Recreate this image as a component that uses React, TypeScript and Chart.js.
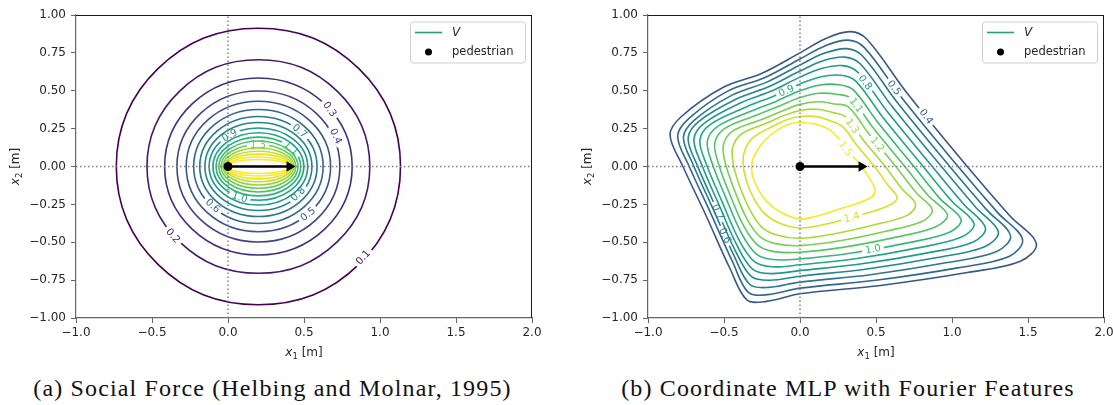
import React, { useEffect, useRef } from 'react';
import { Chart, registerables } from 'chart.js';

Chart.register(...registerables);

// ---------------- axis ticks ----------------
const xTickValues = [-1, -0.5, 0, 0.5, 1, 1.5, 2];
const yTickValues = [-1, -0.75, -0.5, -0.25, 0, 0.25, 0.5, 0.75, 1];

// ---------------- pedestrian + arrow ----------------
const pedestrian = [[0, 0]];
const arrowShaft = [[0, 0], [0.4, 0]];
const arrowHead = [[0.405, 0]];

// ---------------- (a) Social Force contours (levels 0.1 .. 1.8) ----------------
const sfLevels = [0.1, 0.2, 0.3, 0.4, 0.5, 0.6, 0.7, 0.8, 0.9, 1.0, 1.1, 1.2, 1.3, 1.4, 1.5, 1.6, 1.7, 1.8];
const sf01 = [[1.135, 0], [0.861, 0.646], [0.2, 0.913], [-0.461, 0.646], [-0.735, 0], [-0.461, -0.646], [0.2, -0.913], [0.861, -0.646]];
const sf02 = [[0.933, 0], [0.718, 0.498], [0.2, 0.705], [-0.318, 0.498], [-0.533, 0], [-0.318, -0.498], [0.2, -0.705], [0.718, -0.498]];
const sf03 = [[0.817, 0], [0.636, 0.413], [0.2, 0.584], [-0.236, 0.413], [-0.417, 0], [-0.236, -0.413], [0.2, -0.584], [0.636, -0.413]];
const sf04 = [[0.736, 0], [0.579, 0.352], [0.2, 0.498], [-0.179, 0.352], [-0.336, 0], [-0.179, -0.352], [0.2, -0.498], [0.579, -0.352]];
const sf05 = [[0.675, 0], [0.536, 0.305], [0.2, 0.431], [-0.136, 0.305], [-0.275, 0], [-0.136, -0.305], [0.2, -0.431], [0.536, -0.305]];
const sf06 = [[0.626, 0], [0.501, 0.266], [0.2, 0.376], [-0.101, 0.266], [-0.226, 0], [-0.101, -0.266], [0.2, -0.376], [0.501, -0.266]];
const sf07 = [[0.586, 0], [0.473, 0.233], [0.2, 0.33], [-0.073, 0.233], [-0.186, 0], [-0.073, -0.233], [0.2, -0.33], [0.473, -0.233]];
const sf08 = [[0.552, 0], [0.449, 0.205], [0.2, 0.29], [-0.049, 0.205], [-0.152, 0], [-0.049, -0.205], [0.2, -0.29], [0.449, -0.205]];
const sf09 = [[0.524, 0], [0.429, 0.18], [0.2, 0.254], [-0.029, 0.18], [-0.124, 0], [-0.029, -0.18], [0.2, -0.254], [0.429, -0.18]];
const sf10 = [[0.499, 0], [0.411, 0.158], [0.2, 0.223], [-0.011, 0.158], [-0.099, 0], [-0.011, -0.158], [0.2, -0.223], [0.411, -0.158]];
const sf11 = [[0.479, 0], [0.397, 0.137], [0.2, 0.194], [0.003, 0.137], [-0.079, 0], [0.003, -0.137], [0.2, -0.194], [0.397, -0.137]];
const sf12 = [[0.461, 0], [0.385, 0.119], [0.2, 0.168], [0.015, 0.119], [-0.061, 0], [0.015, -0.119], [0.2, -0.168], [0.385, -0.119]];
const sf13 = [[0.446, 0], [0.374, 0.102], [0.2, 0.144], [0.026, 0.102], [-0.046, 0], [0.026, -0.102], [0.2, -0.144], [0.374, -0.102]];
const sf14 = [[0.434, 0], [0.365, 0.086], [0.2, 0.122], [0.035, 0.086], [-0.034, 0], [0.035, -0.086], [0.2, -0.122], [0.365, -0.086]];
const sf15 = [[0.424, 0], [0.358, 0.071], [0.2, 0.101], [0.042, 0.071], [-0.024, 0], [0.042, -0.071], [0.2, -0.101], [0.358, -0.071]];
const sf16 = [[0.416, 0], [0.353, 0.058], [0.2, 0.082], [0.047, 0.058], [-0.016, 0], [0.047, -0.058], [0.2, -0.082], [0.353, -0.058]];
const sf17 = [[0.41, 0], [0.348, 0.045], [0.2, 0.063], [0.052, 0.045], [-0.01, 0], [0.052, -0.045], [0.2, -0.063], [0.348, -0.045]];
const sf18 = [[0.405, 0], [0.345, 0.033], [0.2, 0.046], [0.055, 0.033], [-0.005, 0], [0.055, -0.033], [0.2, -0.046], [0.345, -0.033]];
const sfContours = [sf01, sf02, sf03, sf04, sf05, sf06, sf07, sf08, sf09, sf10, sf11, sf12, sf13, sf14, sf15, sf16, sf17, sf18];

// inline contour labels of (a): level index, position (data), rotation (deg)
const sfLabelLevel = [0, 1, 2, 3, 4, 5, 6, 7, 8, 9, 10, 12];
const sfLabelX = [0.889, -0.362, 0.67, 0.71, 0.526, -0.099, 0.472, 0.461, 0.011, 0.077, 0.417, 0.197];
const sfLabelY = [-0.599, -0.457, 0.378, 0.2, -0.314, -0.259, 0.234, -0.182, 0.206, -0.203, 0.122, 0.144];
const sfLabelRot = [-48, 49, 55, 65, -40, 42, 40, -44, -28, 18, 41, 0];

// ---------------- (b) Coordinate MLP contours (levels 0.4 .. 1.5) ----------------
const mlpLevels = [0.4, 0.5, 0.6, 0.7, 0.8, 0.9, 1.0, 1.1, 1.2, 1.3, 1.4, 1.5];
const mlp04 = [[0, 0.75], [0.17, 0.845], [0.33, 0.89], [0.44, 0.84], [0.7, 0.49], [1.1, 0], [1.38, -0.325], [1.555, -0.51], [1.45, -0.625], [1.1, -0.7], [0.53, -0.785], [0, -0.84], [-0.22, -0.89], [-0.35, -0.88], [-0.46, -0.675], [-0.62, -0.32], [-0.77, 0], [-0.855, 0.21], [-0.78, 0.33], [-0.51, 0.52], [-0.25, 0.615]];
const mlp05 = [[0, 0.71], [0.164, 0.796], [0.318, 0.834], [0.425, 0.783], [0.668, 0.456], [1.04, 0], [1.302, -0.306], [1.464, -0.48], [1.375, -0.594], [1.037, -0.669], [0.498, -0.751], [0, -0.803], [-0.213, -0.846], [-0.34, -0.831], [-0.444, -0.628], [-0.593, -0.296], [-0.73, 0.003], [-0.805, 0.2], [-0.732, 0.316], [-0.479, 0.496], [-0.234, 0.586]];
const mlp06 = [[0, 0.67], [0.158, 0.747], [0.306, 0.778], [0.41, 0.731], [0.639, 0.424], [0.985, 0], [1.23, -0.288], [1.385, -0.456], [1.294, -0.561], [0.969, -0.634], [0.463, -0.714], [0, -0.763], [-0.206, -0.798], [-0.33, -0.779], [-0.432, -0.593], [-0.573, -0.278], [-0.7, 0.005], [-0.767, 0.193], [-0.695, 0.306], [-0.447, 0.471], [-0.219, 0.557]];
const mlp07 = [[0, 0.63], [0.152, 0.698], [0.294, 0.722], [0.396, 0.678], [0.609, 0.392], [0.93, 0], [1.157, -0.27], [1.305, -0.432], [1.215, -0.529], [0.903, -0.601], [0.429, -0.678], [0, -0.724], [-0.199, -0.751], [-0.319, -0.727], [-0.422, -0.563], [-0.556, -0.264], [-0.675, 0.006], [-0.736, 0.187], [-0.665, 0.298], [-0.416, 0.447], [-0.203, 0.528]];
const mlp08 = [[0, 0.59], [0.146, 0.648], [0.281, 0.666], [0.38, 0.622], [0.578, 0.358], [0.87, 0], [1.079, -0.251], [1.22, -0.405], [1.14, -0.498], [0.84, -0.57], [0.397, -0.644], [0, -0.687], [-0.192, -0.707], [-0.31, -0.679], [-0.411, -0.528], [-0.536, -0.246], [-0.645, 0.008], [-0.698, 0.18], [-0.629, 0.287], [-0.385, 0.423], [-0.187, 0.498]];
const mlp09 = [[0, 0.545], [0.139, 0.593], [0.268, 0.602], [0.365, 0.565], [0.546, 0.323], [0.81, 0], [1.001, -0.231], [1.145, -0.378], [1.063, -0.466], [0.775, -0.537], [0.364, -0.609], [0, -0.649], [-0.185, -0.662], [-0.3, -0.628], [-0.398, -0.491], [-0.515, -0.227], [-0.614, 0.01], [-0.659, 0.172], [-0.591, 0.277], [-0.349, 0.395], [-0.17, 0.466]];
const mlp10 = [[0, 0.5], [0.132, 0.538], [0.254, 0.54], [0.349, 0.507], [0.514, 0.288], [0.75, 0], [0.921, -0.212], [1.06, -0.35], [0.983, -0.434], [0.708, -0.504], [0.329, -0.573], [0, -0.61], [-0.178, -0.614], [-0.289, -0.576], [-0.383, -0.445], [-0.489, -0.204], [-0.575, 0.013], [-0.61, 0.163], [-0.544, 0.263], [-0.315, 0.368], [-0.152, 0.433]];
const mlp11 = [[0, 0.455], [0.125, 0.483], [0.24, 0.477], [0.334, 0.451], [0.482, 0.254], [0.69, 0], [0.843, -0.192], [0.97, -0.318], [0.894, -0.397], [0.633, -0.466], [0.291, -0.532], [0, -0.566], [-0.17, -0.562], [-0.278, -0.519], [-0.367, -0.399], [-0.463, -0.181], [-0.535, 0.015], [-0.561, 0.153], [-0.496, 0.25], [-0.279, 0.341], [-0.135, 0.4]];
const mlp12 = [[0, 0.41], [0.118, 0.427], [0.227, 0.413], [0.318, 0.394], [0.45, 0.22], [0.63, 0], [0.765, -0.173], [0.87, -0.286], [0.805, -0.361], [0.558, -0.429], [0.253, -0.492], [0, -0.522], [-0.162, -0.509], [-0.266, -0.461], [-0.349, -0.346], [-0.432, -0.154], [-0.49, 0.018], [-0.504, 0.142], [-0.442, 0.235], [-0.244, 0.313], [-0.117, 0.367]];
const mlp13 = [[0, 0.37], [0.112, 0.378], [0.214, 0.357], [0.3, 0.327], [0.413, 0.179], [0.56, 0], [0.673, -0.15], [0.76, -0.248], [0.708, -0.321], [0.477, -0.388], [0.211, -0.447], [0, -0.474], [-0.153, -0.452], [-0.254, -0.398], [-0.329, -0.287], [-0.399, -0.124], [-0.44, 0.022], [-0.442, 0.13], [-0.381, 0.218], [-0.213, 0.289], [-0.101, 0.338]];
const mlp14 = [[0, 0.33], [0.106, 0.329], [0.202, 0.301], [0.282, 0.261], [0.375, 0.139], [0.49, 0], [0.581, -0.127], [0.64, -0.208], [0.57, -0.264], [0.361, -0.33], [0.152, -0.385], [0, -0.406], [-0.141, -0.371], [-0.236, -0.308], [-0.304, -0.211], [-0.355, -0.086], [-0.375, 0.026], [-0.36, 0.115], [-0.303, 0.195], [-0.181, 0.264], [-0.086, 0.309]];
const mlp15 = [[0, 0.29], [0.1, 0.28], [0.19, 0.245], [0.26, 0.18], [0.33, 0.09], [0.405, 0], [0.47, -0.1], [0.495, -0.165], [0.45, -0.215], [0.26, -0.28], [0.1, -0.33], [0, -0.347], [-0.13, -0.3], [-0.22, -0.23], [-0.28, -0.14], [-0.315, -0.05], [-0.315, 0.03], [-0.285, 0.1], [-0.23, 0.175], [-0.15, 0.24], [-0.07, 0.28]];
const mlpContours = [mlp04, mlp05, mlp06, mlp07, mlp08, mlp09, mlp10, mlp11, mlp12, mlp13, mlp14, mlp15];

const mlpLabelLevel = [0, 1, 4, 7, 9, 8, 11, 5, 3, 2, 10, 6];
const mlpLabelX = [0.83, 0.62, 0.43, 0.37, 0.345, 0.51, 0.3, -0.09, -0.54, -0.493, 0.34, 0.48];
const mlpLabelY = [0.33, 0.52, 0.555, 0.405, 0.268, 0.147, 0.12, 0.5, -0.3, -0.456, -0.335, -0.545];
const mlpLabelRot = [53, 53, 53, 53, 55, 51, 55, -24, 66, 66, -14, -10];

// ---------------- styling helpers ----------------
const FONT = '"DejaVu Sans", sans-serif';
const VIRIDIS = ['#440154', '#482475', '#414487', '#355f8d', '#2a788e', '#21918c', '#22a884', '#44bf70', '#7ad151', '#bddf26', '#fde725'];

function hexRgb(h: string) {
  return [parseInt(h.slice(1, 3), 16), parseInt(h.slice(3, 5), 16), parseInt(h.slice(5, 7), 16)];
}
function viridis(t: number) {
  const c = Math.max(0, Math.min(1, t)) * 10;
  const i = Math.min(9, Math.floor(c));
  const f = c - i;
  const a = hexRgb(VIRIDIS[i]);
  const b = hexRgb(VIRIDIS[i + 1]);
  const m = a.map((v, k) => Math.round(v + (b[k] - v) * f));
  return `rgb(${m[0]},${m[1]},${m[2]})`;
}
const fmtMinus = (s: string) => s.replace('-', '\u2212');

function loopDataset(pts: number[][], color: string, tension: number) {
  const n = pts.length;
  const seq = [pts[n - 1], ...pts, pts[0], pts[1]];
  const last = seq.length - 1;
  return {
    data: seq.map(([x, y]) => ({ x, y })),
    showLine: true,
    borderColor: color,
    borderWidth: 1.6,
    pointRadius: 0,
    pointHoverRadius: 0,
    tension,
    fill: false,
    order: 3,
    segment: {
      borderColor: (c: any) => (c.p0DataIndex === 0 || c.p1DataIndex === last ? 'rgba(0,0,0,0)' : undefined),
    },
  };
}

const LABEL_FONT = `10px ${FONT}`;

const contourLabelPlugin = {
  id: 'contourLabels',
  beforeDatasetDraw(chart: any, args: any, opts: any) {
    const labels = (opts.labels || []).filter((l: any) => l.ds === args.index);
    if (!labels.length) return;
    const ctx = chart.ctx;
    ctx.save();
    ctx.font = LABEL_FONT;
    ctx.beginPath();
    ctx.rect(0, 0, chart.width, chart.height);
    for (const l of labels) {
      const px = chart.scales.x.getPixelForValue(l.x);
      const py = chart.scales.y.getPixelForValue(l.y);
      const w = ctx.measureText(l.text).width / 2 + 3;
      const h = 4;
      const r = (l.rot * Math.PI) / 180;
      const c = Math.cos(r), s = Math.sin(r);
      const corners = [[-w, -h], [w, -h], [w, h], [-w, h]].map(([u, v]) => [px + u * c - v * s, py + u * s + v * c]);
      ctx.moveTo(corners[0][0], corners[0][1]);
      for (let i = 1; i < 4; i++) ctx.lineTo(corners[i][0], corners[i][1]);
      ctx.closePath();
    }
    ctx.clip('evenodd');
    chart.$labelClip = true;
  },
  afterDatasetDraw(chart: any) {
    if (chart.$labelClip) {
      chart.ctx.restore();
      chart.$labelClip = false;
    }
  },
  afterDatasetsDraw(chart: any, _args: any, opts: any) {
    const ctx = chart.ctx;
    ctx.save();
    ctx.font = LABEL_FONT;
    ctx.textAlign = 'center';
    ctx.textBaseline = 'middle';
    for (const l of opts.labels || []) {
      const px = chart.scales.x.getPixelForValue(l.x);
      const py = chart.scales.y.getPixelForValue(l.y);
      ctx.save();
      ctx.translate(px, py);
      ctx.rotate((l.rot * Math.PI) / 180);
      ctx.fillStyle = l.color;
      ctx.fillText(l.text, 0, 0.5);
      ctx.restore();
    }
    ctx.restore();
  },
};

function drawAxisTitle(ctx: any, cx: number, cy: number, sub: string) {
  const big = 12, small = 8.5;
  ctx.textBaseline = 'alphabetic';
  ctx.textAlign = 'left';
  ctx.font = `italic ${big}px ${FONT}`;
  const wx = ctx.measureText('x').width;
  ctx.font = `${small}px ${FONT}`;
  const ws = ctx.measureText(sub).width;
  ctx.font = `${big}px ${FONT}`;
  const wr = ctx.measureText(' [m]').width;
  const total = wx + ws + wr;
  const x0 = cx - total / 2;
  const base = cy + 4;
  ctx.font = `italic ${big}px ${FONT}`;
  ctx.fillText('x', x0, base);
  ctx.font = `${small}px ${FONT}`;
  ctx.fillText(sub, x0 + wx, base + 2.5);
  ctx.font = `${big}px ${FONT}`;
  ctx.fillText(' [m]', x0 + wx + ws, base);
}

const decorPlugin = {
  id: 'decor',
  afterDraw(chart: any, _args: any, opts: any) {
    const ctx = chart.ctx;
    const a = chart.chartArea;
    ctx.save();
    ctx.strokeStyle = '#1a1a1a';
    ctx.lineWidth = 1;
    ctx.beginPath();
    ctx.moveTo(a.left, a.top + 0.5);
    ctx.lineTo(a.right, a.top + 0.5);
    ctx.moveTo(a.right - 0.5, a.top);
    ctx.lineTo(a.right - 0.5, a.bottom);
    ctx.stroke();
    ctx.fillStyle = '#262626';
    drawAxisTitle(ctx, (a.left + a.right) / 2, a.bottom + 34, '1');
    ctx.save();
    ctx.translate(a.left - 61, (a.top + a.bottom) / 2);
    ctx.rotate(-Math.PI / 2);
    drawAxisTitle(ctx, 0, 0, '2');
    ctx.restore();
    const bw = 115, bh = 41;
    const bx = a.right - 7 - bw, by = a.top + 6.5;
    ctx.beginPath();
    ctx.roundRect(bx + 0.5, by + 0.5, bw, bh, 3);
    ctx.fillStyle = 'rgba(255,255,255,0.85)';
    ctx.fill();
    ctx.strokeStyle = '#cfcfcf';
    ctx.lineWidth = 1;
    ctx.stroke();
    ctx.strokeStyle = opts.legendColor;
    ctx.lineWidth = 1.6;
    ctx.beginPath();
    ctx.moveTo(bx + 5, by + 11);
    ctx.lineTo(bx + 32, by + 11);
    ctx.stroke();
    ctx.fillStyle = '#000';
    ctx.beginPath();
    ctx.arc(bx + 18.5, by + 30.5, 3.5, 0, Math.PI * 2);
    ctx.fill();
    ctx.fillStyle = '#262626';
    ctx.textBaseline = 'middle';
    ctx.textAlign = 'left';
    ctx.font = `italic 12px ${FONT}`;
    ctx.fillText('V', bx + 42, by + 11);
    ctx.font = `11.5px ${FONT}`;
    ctx.fillText('pedestrian', bx + 42, by + 30.5);
    ctx.restore();
  },
};

function buildConfig(contours: number[][][], levels: number[], colorOf: (v: number) => string, tension: number,
  lblLevel: number[], lblX: number[], lblY: number[], lblRot: number[], rightPad: number) {
  const datasets: any[] = contours.map((pts, i) => loopDataset(pts, colorOf(levels[i]), tension));
  datasets.push({
    data: [{ x: xTickValues[0], y: 0 }, { x: xTickValues[xTickValues.length - 1], y: 0 }],
    showLine: true, borderColor: '#808080', borderWidth: 1.5, borderDash: [1.5, 2.5], pointRadius: 0, order: 2,
  });
  datasets.push({
    data: [{ x: 0, y: yTickValues[0] }, { x: 0, y: yTickValues[yTickValues.length - 1] }],
    showLine: true, borderColor: '#808080', borderWidth: 1.5, borderDash: [1.5, 2.5], pointRadius: 0, order: 2,
  });
  datasets.push({
    data: arrowShaft.map(([x, y]) => ({ x, y })),
    showLine: true, borderColor: '#000', borderWidth: 2.7, pointRadius: 0, order: 1,
  });
  datasets.push({
    data: arrowHead.map(([x, y]) => ({ x, y })),
    showLine: false, pointStyle: 'triangle', rotation: 90, pointRadius: 6, backgroundColor: '#000', borderColor: '#000', borderWidth: 0, order: 1,
  });
  datasets.push({
    data: pedestrian.map(([x, y]) => ({ x, y })),
    showLine: false, pointStyle: 'circle', pointRadius: 4.5, backgroundColor: '#000', borderColor: '#000', borderWidth: 0, order: 0,
  });
  const labels = lblLevel.map((li, k) => ({
    ds: li, text: levels[li].toFixed(1), x: lblX[k], y: lblY[k], rot: lblRot[k], color: colorOf(levels[li]),
  }));
  const tickFont = { family: FONT, size: 12 };
  return {
    type: 'scatter',
    data: { datasets },
    plugins: [contourLabelPlugin, decorPlugin],
    options: {
      animation: false,
      responsive: false,
      events: [],
      layout: { padding: { top: 15, right: rightPad, left: 0, bottom: 0 } },
      plugins: {
        legend: { display: false },
        tooltip: { enabled: false },
        contourLabels: { labels },
        decor: { legendColor: '#2a9d72' },
      },
      scales: {
        x: {
          type: 'linear', min: -1, max: 2,
          afterBuildTicks: (s: any) => { s.ticks = xTickValues.map((v) => ({ value: v })); },
          afterFit: (s: any) => { s.height = 47; },
          ticks: { callback: (v: any) => fmtMinus(Number(v).toFixed(1)), font: tickFont, color: '#262626', padding: 3, autoSkip: false, maxRotation: 0 },
          grid: { drawOnChartArea: false, tickLength: 5, color: '#666', tickColor: '#666' },
          border: { color: '#666', width: 1.2 },
        },
        y: {
          type: 'linear', min: -1, max: 1,
          afterBuildTicks: (s: any) => { s.ticks = yTickValues.map((v) => ({ value: v })); },
          afterFit: (s: any) => { s.width = 76; },
          ticks: { callback: (v: any) => fmtMinus(Number(v).toFixed(2)), font: tickFont, color: '#262626', padding: 5, autoSkip: false },
          grid: { drawOnChartArea: false, tickLength: 5, color: '#666', tickColor: '#666' },
          border: { color: '#666', width: 1.2 },
        },
      },
    },
  };
}

function ContourChart(props: any) {
  const ref = useRef<HTMLCanvasElement | null>(null);
  useEffect(() => {
    if (!ref.current) return;
    const chart = new Chart(ref.current, props.config as any);
    return () => chart.destroy();
  }, []);
  return (
    <canvas
      ref={ref}
      width={props.width}
      height={props.height}
      style={{ position: 'absolute', left: props.left, top: 0, width: props.width, height: props.height }}
    />
  );
}

const sfColor = (v: number) => viridis((v - 0.1) / 1.55);
const mlpColor = (v: number) => viridis(v / 1.5);

const captionStyle: any = {
  position: 'absolute',
  top: 376,
  fontFamily: '"Liberation Serif", "DejaVu Serif", serif',
  fontSize: 24,
  lineHeight: '24px',
  letterSpacing: '1.15px',
  color: '#111',
  textAlign: 'center',
  whiteSpace: 'nowrap',
};

export default function App() {
  const sfConfig = buildConfig(sfContours, sfLevels, sfColor, 0.4, sfLabelLevel, sfLabelX, sfLabelY, sfLabelRot, 24);
  const mlpConfig = buildConfig(mlpContours, mlpLevels, mlpColor, 0.35, mlpLabelLevel, mlpLabelX, mlpLabelY, mlpLabelRot, 14);
  return (
    <div style={{ position: 'absolute', left: 0, top: 0, width: 1113, height: 405, overflow: 'hidden', background: '#fff' }}>
      <ContourChart config={sfConfig} left={0} width={556} height={365} />
      <ContourChart config={mlpConfig} left={572} width={546} height={365} />
      <div style={{ ...captionStyle, left: 0, width: 545 }}>(a) Social Force (Helbing and Molnar, 1995)</div>
      <div style={{ ...captionStyle, left: 575, width: 546 }}>(b) Coordinate MLP with Fourier Features</div>
    </div>
  );
}
